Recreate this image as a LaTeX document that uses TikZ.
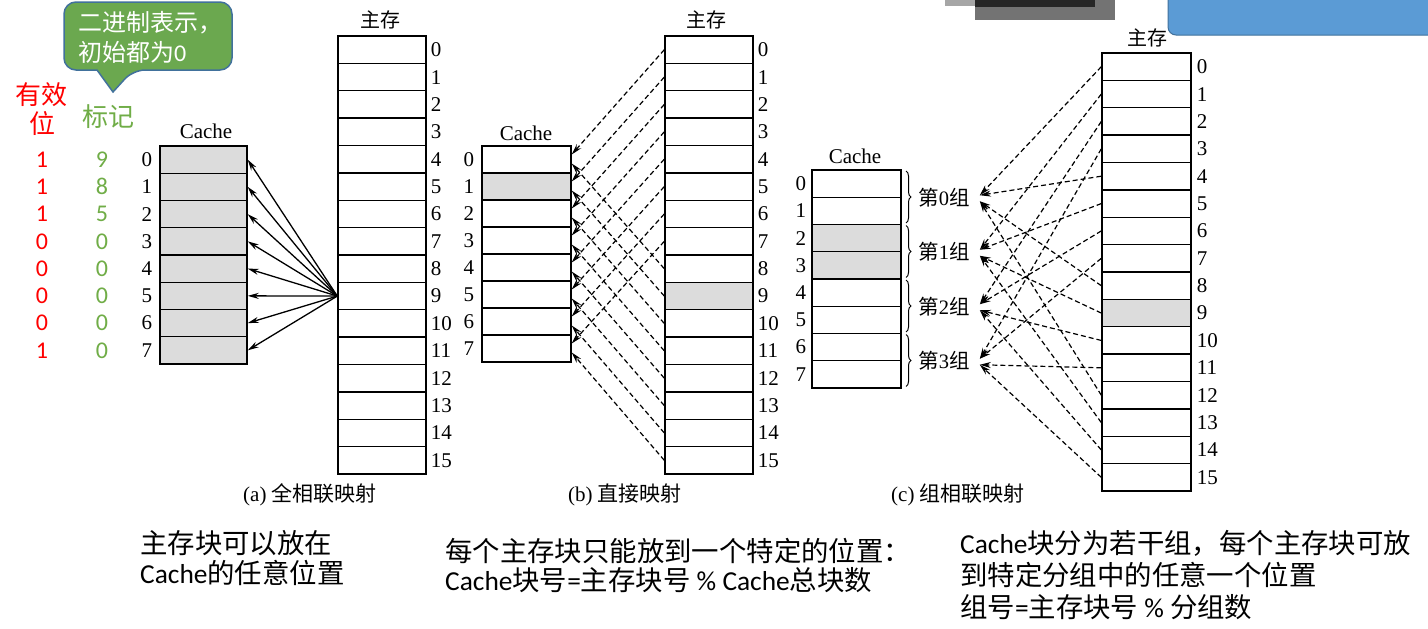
\documentclass[tikz,border=0pt]{standalone}
\usepackage{fontspec}
\setmainfont{Liberation Serif}
\newfontfamily\cjk{Noto Sans CJK SC}
\newfontfamily\calfont{Carlito}
\usetikzlibrary{arrows.meta,decorations.pathreplacing}
\definecolor{cellgray}{HTML}{DCDCDC}
\definecolor{callgreen}{HTML}{6BA84F}
\definecolor{callborder}{HTML}{41719C}
\definecolor{tagred}{HTML}{FF0000}
\definecolor{taggreen}{HTML}{70AD47}
\definecolor{bluebox}{HTML}{5B9BD5}
\begin{document}
\begin{tikzpicture}[x=1pt,y=-1pt,
  cell/.style={draw, line width=1.4pt, inner sep=0pt},
  idx/.style={font=\fontsize{21}{21}\selectfont, inner sep=0pt},
  ttl/.style={font=\fontsize{20}{20}\selectfont\cjk, inner sep=0pt},
  capt/.style={font=\fontsize{21}{21}\selectfont, inner sep=0pt},
  sol/.style={-{Stealth[length=11pt,width=6pt]}, line width=1.3pt},
  dsh/.style={-{Stealth[length=11pt,width=6pt]}, line width=1.2pt, dash pattern=on 5pt off 3pt},
  tagtxt/.style={font=\fontsize{24}{24}\selectfont\calfont, inner sep=0pt},
  body/.style={inner sep=0pt, anchor=base west, font=\fontsize{27.4}{27.4}\selectfont\cjk}
]
\useasboundingbox (0,0) rectangle (1428,629);
\fill[white] (0,0) rectangle (1428,629);

% top-right blurred artefacts
\fill[black!55] (975,0) rectangle (1115,20);
\fill[black!85] (975,0) rectangle (1095,7);
\fill[black!35] (945,0) rectangle (975,6);
\draw[fill=bluebox, draw=callborder, line width=1pt, rounded corners=8pt] (1168,-10) rectangle (1440,35);

% callout
\draw[fill=callgreen, draw=callborder, line width=1.5pt]
  [rounded corners=12pt] (64,36) |- (148,2) -| (232,36) |- (133,70)
  [sharp corners] -- (113,92) -- (97,70)
  [rounded corners=12pt] -| (64,36) -- cycle;
\node[body, text=white, font=\fontsize{24}{24}\selectfont\cjk] (co1) at (78,31) {二进制表示，};
\node[body, text=white, font=\fontsize{24}{24}\selectfont\cjk] (co2) at (78,61) {初始都为{\calfont 0}};

% headings of the tag columns
\node[ttl, text=tagred, font=\fontsize{26}{26}\selectfont\cjk] (hv1) at (42,95) {有效};
\node[ttl, text=tagred, font=\fontsize{26}{26}\selectfont\cjk] (hv2) at (42,124) {位};
\node[ttl, text=taggreen, font=\fontsize{26}{26}\selectfont\cjk] (ht) at (108,117) {标记};

% ---------- (a) fully associative ----------
\node[ttl, font=\fontsize{21}{21}\selectfont] (acap) at (206,131) {Cache};
\node[ttl] (amt) at (380,20) {主存};
\foreach \i/\v/\t in {0/1/9,1/1/8,2/1/5,3/0/0,4/0/0,5/0/0,6/0/0,7/1/0}{
  \node[cell, fill=cellgray, minimum width=87pt, minimum height=27.25pt] (ac\i) at (203.5,{159.6+27.25*\i}) {};
  \node[idx, anchor=east] (acl\i) at ([xshift=-7pt]ac\i.west) {\i};
  \node[tagtxt, text=tagred] (va\i) at (42,{159.6+27.25*\i}) {\v};
  \node[tagtxt, text=taggreen] (tg\i) at (102,{159.6+27.25*\i}) {\t};
}
\foreach \i in {0,...,15}{
  \node[cell, minimum width=88pt, minimum height=27.375pt] (am\i) at (382,{49.7+27.375*\i}) {};
  \node[idx, anchor=west] (aml\i) at ([xshift=4pt]am\i.east) {\i};
}
\foreach \i in {0,...,7}{
  \draw[sol] (am9.west) -- (ac\i.east);
}
\node[capt] (capa) at (310,495) {(a) {\cjk 全相联映射}};

% ---------- (b) direct ----------
\node[ttl, font=\fontsize{21}{21}\selectfont] (bcap) at (526,133) {Cache};
\node[ttl] (bmt) at (706,20) {主存};
\foreach \i in {0,...,7}{
  \ifnum\i=1 \def\fc{cellgray}\else\def\fc{white}\fi
  \node[cell, fill=\fc, minimum width=89pt, minimum height=27pt] (bc\i) at (526.5,{159.5+27*\i}) {};
  \node[idx, anchor=east] (bcl\i) at ([xshift=-7pt]bc\i.west) {\i};
}
\foreach \i in {0,...,15}{
  \ifnum\i=9 \def\fc{cellgray}\else\def\fc{white}\fi
  \node[cell, fill=\fc, minimum width=88pt, minimum height=27.375pt] (bm\i) at (709,{49.7+27.375*\i}) {};
  \node[idx, anchor=west] (bml\i) at ([xshift=4pt]bm\i.east) {\i};
}
\foreach \i in {0,...,15}{
  \pgfmathtruncatemacro\j{mod(\i,8)}
  \ifnum\i<8 \def\off{5}\else\def\off{-4}\fi
  \draw[dsh] (bm\i.west) -- ([yshift=\off pt]bc\j.east);
}
\node[capt] (capb) at (625,495) {(b) {\cjk 直接映射}};

% ---------- (c) set associative ----------
\node[ttl, font=\fontsize{21}{21}\selectfont] (ccap) at (855,156) {Cache};
\node[ttl] (cmt) at (1147,38) {主存};
\foreach \i in {0,...,7}{
  \ifnum\i=2 \def\fc{cellgray}\else\ifnum\i=3 \def\fc{cellgray}\else\def\fc{white}\fi\fi
  \node[cell, fill=\fc, minimum width=89pt, minimum height=27.25pt] (cc\i) at (856.5,{183.6+27.25*\i}) {};
  \node[idx, anchor=east] (ccl\i) at ([xshift=-5pt]cc\i.west) {\i};
}
\foreach \k in {0,...,3}{
  \draw[decorate, decoration={brace, amplitude=5pt}, line width=1pt]
    (906,{171+54.5*\k}) -- (906,{223+54.5*\k});
  \node[ttl, font=\fontsize{20.5}{20.5}\selectfont] (gl\k) at (944,{197.25+54.5*\k}) {{\cjk 第}{\rmfamily\k}{\cjk 组}};
}
\foreach \i in {0,...,15}{
  \ifnum\i=9 \def\fc{cellgray}\else\def\fc{white}\fi
  \node[cell, fill=\fc, minimum width=89pt, minimum height=27.375pt] (cm\i) at (1146.5,{66.7+27.375*\i}) {};
  \node[idx, anchor=west] (cml\i) at ([xshift=5pt]cm\i.east) {\i};
}
\foreach \i in {0,...,15}{
  \pgfmathtruncatemacro\j{mod(\i,4)}
  \ifnum\i<8 \def\off{2}\else\def\off{-4}\fi
  \draw[dsh] (cm\i.west) -- ([xshift=10pt,yshift=\off pt]gl\j.east);
}
\node[capt] (capc) at (958,495) {(c) {\cjk 组相联映射}};

% ---------- bottom explanations ----------
\node[body] (ta1) at (140,553) {主存块可以放在};
\node[body] (ta2) at (140,583) {{\calfont Cache}的任意位置};
\node[body] (tb1) at (445,561) {每个主存块只能放到一个特定的位置：};
\node[body] (tb2) at (445,590) {{\calfont Cache}块号{\calfont =}主存块号 {\calfont \% Cache}总块数};
\node[body] (tc1) at (960,553) {{\calfont Cache}块分为若干组，每个主存块可放};
\node[body] (tc2) at (960,585) {到特定分组中的任意一个位置};
\node[body] (tc3) at (960,617) {组号{\calfont =}主存块号 {\calfont \%} 分组数};
\end{tikzpicture}
\end{document}
